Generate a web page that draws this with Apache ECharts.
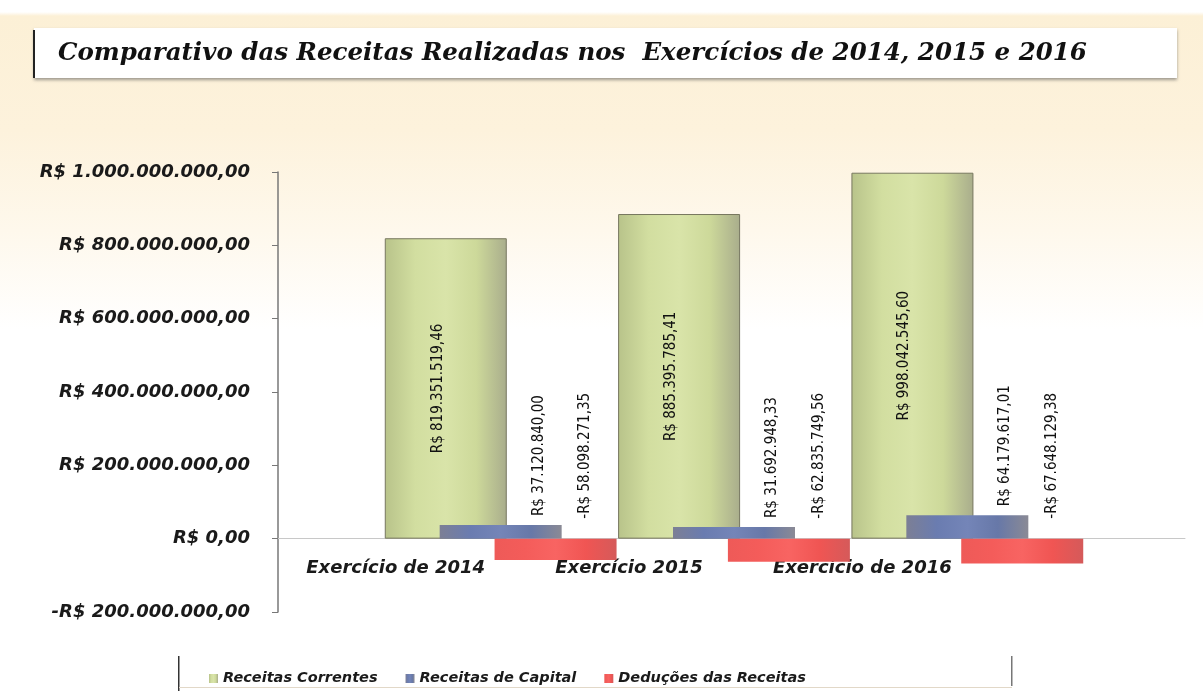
<!DOCTYPE html>
<html>
<head>
<meta charset="utf-8">
<script src="https://cdn.jsdelivr.net/npm/echarts@6/dist/echarts.min.js"></script>
<style>
html,body{margin:0;padding:0;background:#fff;}
#wrap{position:relative;width:1203px;height:691px;
 background:linear-gradient(180deg,#ffffff 0px,#ffffff 12px,#fcf0d6 16px,#fdf2dc 130px,#fef8ec 230px,#ffffff 330px,#ffffff 691px);}
#chart{position:absolute;left:0;top:0;width:1203px;height:691px;}
</style>
</head>
<body>
<div id="wrap"><div id="chart"></div></div>
<script>
const categories = ['Exercício de 2014', 'Exercício 2015', 'Exercício de 2016'];
const receitasCorrentes = [819351519.46, 885395785.41, 998042545.60];
const receitasCapital = [37120840.00, 31692948.33, 64179617.01];
const deducoes = [-58098271.35, -62835749.56, -67648129.38];
const yTicks = [-200000000, 0, 200000000, 400000000, 600000000, 800000000, 1000000000];
const seriesNames = ['Receitas Correntes', 'Receitas de Capital', 'Deduções das Receitas'];
const titleText = 'Comparativo das Receitas Realizadas nos  Exercícios de 2014, 2015 e 2016';

function brl(v, decimals) {
  const neg = v < 0;
  const a = Math.abs(v);
  const fixed = a.toFixed(decimals);
  const parts = fixed.split('.');
  const intPart = parts[0].replace(/\B(?=(\d{3})+(?!\d))/g, '.');
  return (neg ? '-' : '') + 'R$ ' + intPart + (decimals ? ',' + parts[1] : '');
}

const chart = echarts.init(document.getElementById('chart'), null, {renderer: 'canvas'});
const axisFont = {fontFamily: 'DejaVu Sans', fontStyle: 'italic', fontWeight: 'bold', color: '#1a1a1a'};
const lblFont = {fontFamily: '"Liberation Sans Narrow", "DejaVu Sans Condensed", sans-serif', fontSize: 15, color: '#111'};

function grad(stops) {
  return new echarts.graphic.LinearGradient(0, 0, 1, 0, stops.map((c, i) => ({offset: i / (stops.length - 1), color: c})));
}

const option = {
  animation: false,
  title: {
    text: titleText,
    left: 53, top: 36,
    textStyle: {fontFamily: 'DejaVu Serif', fontStyle: 'italic', fontWeight: 'bold', fontSize: 24.5, color: '#111'}
  },
  graphic: [
    {type: 'rect', z: -1, shape: {x: 34, y: 28, width: 1143, height: 50},
     style: {fill: '#ffffff', shadowColor: 'rgba(80,80,80,0.55)', shadowBlur: 3, shadowOffsetY: 2}},
    {type: 'rect', z: 0, shape: {x: 33, y: 30, width: 2, height: 48}, style: {fill: '#222'}},
    {type: 'rect', z: 0, shape: {x: 178, y: 656, width: 1.5, height: 35}, style: {fill: '#333'}},
    {type: 'rect', z: 0, shape: {x: 1011, y: 656, width: 1.5, height: 30}, style: {fill: '#777'}},
    {type: 'rect', z: 0, shape: {x: 179, y: 687, width: 833, height: 1}, style: {fill: '#e2d8c8'}}
  ],
  legend: {
    data: seriesNames,
    left: 204, top: 666,
    itemWidth: 9, itemHeight: 9, itemGap: 28,
    icon: 'rect',
    itemStyle: {borderWidth: 0},
    textStyle: Object.assign({fontSize: 14.5}, axisFont)
  },
  grid: [
    {left: 384, right: 119, top: 172, bottom: 79, containLabel: false},
    {left: 278, right: 18, top: 172, bottom: 79, containLabel: false}
  ],
  xAxis: [
    {type: 'category', gridIndex: 0, data: categories, position: 'bottom',
     axisLine: {show: false, onZero: false}, axisTick: {show: false},
     axisLabel: {interval: 0, margin: -53, fontSize: 18, fontFamily: 'DejaVu Sans', fontStyle: 'italic', fontWeight: 'bold', color: '#1a1a1a',
       formatter: v => '{a|' + v + '}',
       rich: {a: {fontSize: 18, fontFamily: 'DejaVu Sans', fontStyle: 'italic', fontWeight: 'bold', color: '#1a1a1a', padding: [0, 210, 0, 0]}}}},
    {type: 'category', gridIndex: 1, data: categories,
     axisLine: {show: true, onZero: true, lineStyle: {color: '#c8c8c8', width: 1}},
     axisTick: {show: false}, axisLabel: {show: false}}
  ],
  yAxis: [
    {type: 'value', gridIndex: 0, min: yTicks[0], max: yTicks[yTicks.length - 1], interval: 200000000,
     offset: 106,
     axisLine: {show: true, lineStyle: {color: '#777', width: 1.5}},
     axisTick: {show: true, length: 6, lineStyle: {color: '#777'}},
     splitLine: {show: false},
     axisLabel: Object.assign({fontSize: 18, margin: 28, formatter: v => brl(v, 2)}, axisFont)},
    {type: 'value', gridIndex: 1, min: yTicks[0], max: yTicks[yTicks.length - 1], interval: 200000000,
     show: false}
  ],
  series: [
    {name: seriesNames[0], type: 'bar', data: receitasCorrentes, barWidth: 122, barGap: '-55%',
     itemStyle: {color: grad(['#b8c38a', '#d2dea0', '#d9e4a9', '#cdd99a', '#a9ad8c']), borderColor: '#77775f', borderWidth: 1},
     label: Object.assign({show: true, position: 'inside', rotate: 90, offset: [0, -8], formatter: p => brl(p.value, 2)}, lblFont)},
    {name: seriesNames[1], type: 'bar', data: receitasCapital, barWidth: 122,
     itemStyle: {color: grad(['#7c7f95', '#6a7cb0', '#7485b8', '#6778a8', '#8a8a95'])},
     label: Object.assign({show: true, position: 'top', rotate: 90, align: 'left', verticalAlign: 'middle', distance: 9,
       offset: [0, 38], formatter: p => brl(p.value, 2)}, lblFont)},
    {name: seriesNames[2], type: 'bar', data: deducoes, barWidth: 122,
     itemStyle: {color: grad(['#ee5a58', '#f45c5a', '#f86462', '#f05553', '#d55a5a'])},
     label: Object.assign({show: true, position: 'top', rotate: 90, align: 'left', verticalAlign: 'middle', distance: 20,
       offset: [0, 30], formatter: p => brl(p.value, 2)}, lblFont)}
  ]
};
chart.setOption(option);
</script>
</body>
</html>
